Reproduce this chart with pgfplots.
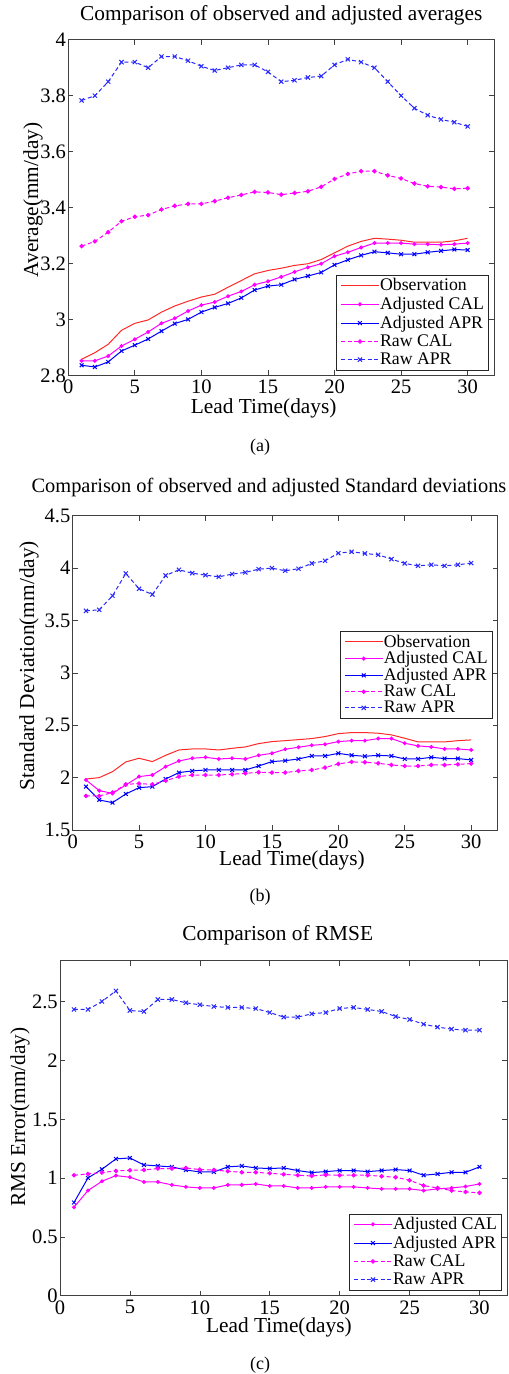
\documentclass[border=0pt]{standalone}
\usepackage{fontspec}
\setmainfont{Liberation Serif}
\usepackage{pgfplots}
\usepackage{pgfplotstable}
\pgfplotsset{compat=1.18}

\definecolor{cred}{RGB}{255,40,40}
\definecolor{cmag}{RGB}{255,0,255}
\definecolor{cblue}{RGB}{0,0,255}
\definecolor{cblue2}{RGB}{40,40,255}

\pgfplotstableread{
x obs acal aapr rcal rapr
1 2.857 2.852 2.836 3.262 3.783
2 2.881 2.852 2.830 3.279 3.800
3 2.911 2.869 2.848 3.312 3.850
4 2.961 2.905 2.887 3.351 3.920
5 2.986 2.929 2.908 3.367 3.920
6 2.998 2.955 2.930 3.373 3.900
7 3.026 2.986 2.958 3.393 3.940
8 3.048 3.004 2.985 3.406 3.940
9 3.065 3.030 3.000 3.413 3.925
10 3.080 3.051 3.026 3.413 3.905
11 3.090 3.062 3.043 3.423 3.890
12 3.115 3.083 3.057 3.435 3.900
13 3.139 3.100 3.077 3.445 3.910
14 3.163 3.124 3.105 3.456 3.910
15 3.175 3.136 3.119 3.454 3.885
16 3.183 3.152 3.124 3.446 3.850
17 3.193 3.170 3.143 3.452 3.855
18 3.199 3.186 3.155 3.458 3.865
19 3.214 3.199 3.168 3.474 3.870
20 3.238 3.226 3.195 3.502 3.910
21 3.262 3.240 3.213 3.520 3.930
22 3.279 3.257 3.229 3.530 3.920
23 3.290 3.273 3.242 3.530 3.900
24 3.287 3.273 3.238 3.515 3.850
25 3.283 3.273 3.233 3.504 3.800
26 3.276 3.269 3.233 3.486 3.755
27 3.276 3.269 3.240 3.476 3.730
28 3.276 3.267 3.245 3.473 3.715
29 3.281 3.269 3.250 3.467 3.705
30 3.290 3.273 3.248 3.469 3.690
}\tabA

\pgfplotstableread{
x obs acal aapr rcal rapr
1 1.987 1.978 1.914 1.825 3.592
2 2.000 1.876 1.787 1.825 3.602
3 2.057 1.850 1.761 1.857 3.736
4 2.150 1.930 1.844 1.936 3.949
5 2.185 2.010 1.904 1.943 3.803
6 2.153 2.025 1.914 1.936 3.748
7 2.213 2.105 1.987 1.971 3.930
8 2.264 2.159 2.048 2.010 3.984
9 2.274 2.185 2.064 2.025 3.952
10 2.274 2.194 2.073 2.025 3.933
11 2.264 2.178 2.073 2.025 3.917
12 2.280 2.185 2.073 2.032 3.943
13 2.293 2.178 2.073 2.041 3.959
14 2.325 2.213 2.111 2.051 3.990
15 2.344 2.232 2.153 2.048 4.000
16 2.353 2.271 2.162 2.048 3.975
17 2.363 2.290 2.178 2.064 3.994
18 2.373 2.309 2.207 2.073 4.045
19 2.392 2.318 2.207 2.096 4.070
20 2.420 2.344 2.232 2.131 4.143
21 2.430 2.353 2.213 2.150 4.156
22 2.430 2.353 2.204 2.147 4.140
23 2.424 2.373 2.213 2.137 4.127
24 2.408 2.373 2.207 2.121 4.086
25 2.376 2.328 2.178 2.111 4.045
26 2.341 2.303 2.178 2.111 4.022
27 2.341 2.293 2.194 2.121 4.032
28 2.341 2.274 2.182 2.121 4.022
29 2.353 2.274 2.182 2.127 4.032
30 2.360 2.264 2.169 2.134 4.048
}\tabB

\pgfplotstableread{
x acal aapr rcal rapr
1 0.753 0.793 1.025 2.435
2 0.895 1.002 1.036 2.435
3 0.974 1.076 1.048 2.503
4 1.022 1.164 1.062 2.593
5 1.008 1.172 1.067 2.426
6 0.968 1.113 1.070 2.418
7 0.968 1.104 1.082 2.520
8 0.943 1.096 1.082 2.520
9 0.926 1.070 1.087 2.492
10 0.917 1.053 1.073 2.475
11 0.917 1.053 1.070 2.460
12 0.943 1.096 1.059 2.452
13 0.943 1.104 1.050 2.452
14 0.951 1.087 1.050 2.443
15 0.934 1.082 1.042 2.409
16 0.934 1.087 1.033 2.370
17 0.917 1.065 1.025 2.370
18 0.917 1.048 1.019 2.398
19 0.926 1.056 1.028 2.409
20 0.926 1.065 1.025 2.443
21 0.926 1.065 1.025 2.452
22 0.917 1.056 1.025 2.435
23 0.909 1.065 1.016 2.418
24 0.909 1.073 1.008 2.375
25 0.909 1.065 0.982 2.350
26 0.895 1.025 0.937 2.310
27 0.909 1.036 0.917 2.285
28 0.917 1.050 0.895 2.268
29 0.929 1.050 0.883 2.259
30 0.951 1.096 0.875 2.259
}\tabC

\pgfplotsset{
  legend image code/.code={\draw[mark repeat=2,mark phase=2,#1] plot coordinates {(0cm,0cm) (0.5cm,0cm) (1cm,0cm)};},
  myax/.style={
    scale only axis,
    xmin=0, xmax=32, xtick={0,5,...,30},
    tick align=inside, tick pos=both,
    major tick length=3.75pt,
    axis line style={black!75, line width=0.6pt},
    every tick/.style={black!75, line width=0.5pt},
    tick label style={font=\fontsize{15.4}{16}\selectfont},
    /pgf/number format/assume math mode=true,
    yticklabel style={inner xsep=1.5pt},
    label style={font=\fontsize{16}{18}\selectfont},
    title style={font=\fontsize{16}{18}\selectfont, anchor=center, yshift=0pt},
    xlabel style={anchor=center},
    ylabel style={anchor=center},
    legend cell align=left,
    legend style={anchor=south east, draw=black!85, fill=white,
      font=\fontsize{13.3}{14}\selectfont, inner xsep=3pt, inner ysep=1pt,
      row sep=0.3pt, nodes={inner xsep=0.5pt, inner ysep=1.5pt}},
    every axis plot/.append style={line width=0.75pt},
  },
  sobs/.style={cred, no marks},
  sacal/.style={cmag, mark=*, mark size=1.1pt, every mark/.append style={solid}},
  saapr/.style={cblue, mark=x, mark size=2pt, every mark/.append style={solid}},
  srcal/.style={cmag, dashed, dash pattern=on 3pt off 2pt, mark=*, mark size=1.3pt, every mark/.append style={solid}},
  srapr/.style={cblue2, dashed, dash pattern=on 3pt off 2pt, mark=x, mark size=2.2pt, every mark/.append style={solid}},
}

\begin{document}
\begin{tikzpicture}
\useasboundingbox (0,0) rectangle (381pt,-1030.5pt);

% (a)
\begin{axis}[myax,
  at={(51.2pt,-281.5pt)}, anchor=south west,
  width=319.5pt, height=251.7pt,
  ymin=2.8, ymax=4, ytick={2.8,3,3.2,3.4,3.6,3.8,4},
  title={Comparison of observed and adjusted averages},
  title style={at={(axis description cs:0.5,1.05)}},
  xlabel={Lead Time(days)},
  xlabel style={at={(axis description cs:0.4587,-0.0974)}},
  ylabel={Average(mm/day)},
  ylabel style={at={(axis description cs:-0.0829,0.5224)}},
  legend style={at={(axis description cs:0.9876,0.0158)}},
]
\addplot[sobs] table[x=x,y=obs]{\tabA};
\addplot[sacal] table[x=x,y=acal]{\tabA};
\addplot[saapr] table[x=x,y=aapr]{\tabA};
\addplot[srcal] table[x=x,y=rcal]{\tabA};
\addplot[srapr] table[x=x,y=rapr]{\tabA};
\legend{Observation,Adjusted CAL,Adjusted APR,Raw CAL,Raw APR}
\end{axis}
\node[font=\fontsize{13.5}{15}\selectfont] at (195pt,-335.3pt) {(a)};

% (b)
\begin{axis}[myax,
  at={(54.5pt,-622.5pt)}, anchor=south west,
  width=318.8pt, height=235.7pt,
  ymin=1.5, ymax=4.5, ytick={1.5,2,2.5,3,3.5,4,4.5},
  title={Comparison of observed and adjusted Standard deviations},
  title style={at={(axis description cs:0.4619,1.0659)}, font=\fontsize{15.3}{17}\selectfont},
  xlabel={Lead Time(days)},
  xlabel style={at={(axis description cs:0.516,-0.0955)}},
  ylabel={Standard Deviation(mm/day)},
  ylabel style={at={(axis description cs:-0.1028,0.5228)}},
  legend style={at={(axis description cs:0.9882,0.3554)}, row sep=-1.2pt},
]
\addplot[sobs] table[x=x,y=obs]{\tabB};
\addplot[sacal] table[x=x,y=acal]{\tabB};
\addplot[saapr] table[x=x,y=aapr]{\tabB};
\addplot[srcal] table[x=x,y=rcal]{\tabB};
\addplot[srapr] table[x=x,y=rapr]{\tabB};
\legend{Observation,Adjusted CAL,Adjusted APR,Raw CAL,Raw APR}
\end{axis}
\node[font=\fontsize{13.5}{15}\selectfont] at (195pt,-672.5pt) {(b)};

% (c)
\begin{axis}[myax,
  at={(45pt,-971.8pt)}, anchor=south west,
  width=335.6pt, height=251.3pt,
  ymin=0, ymax=2.85, ytick={0,0.5,1,1.5,2,2.5},
  title={Comparison of RMSE},
  title style={at={(axis description cs:0.4865,1.052)}},
  xlabel={Lead Time(days)},
  xlabel style={at={(axis description cs:0.4894,-0.0934)}},
  ylabel={RMS Error(mm/day)},
  ylabel style={at={(axis description cs:-0.0894,0.5334)}},
  legend style={at={(axis description cs:0.9877,0.017)}},
]
\addplot[sacal] table[x=x,y=acal]{\tabC};
\addplot[saapr] table[x=x,y=aapr]{\tabC};
\addplot[srcal] table[x=x,y=rcal]{\tabC};
\addplot[srapr] table[x=x,y=rapr]{\tabC};
\legend{Adjusted CAL,Adjusted APR,Raw CAL,Raw APR}
\end{axis}
\node[font=\fontsize{13.5}{15}\selectfont] at (195pt,-1023.8pt) {(c)};
\end{tikzpicture}
\end{document}
